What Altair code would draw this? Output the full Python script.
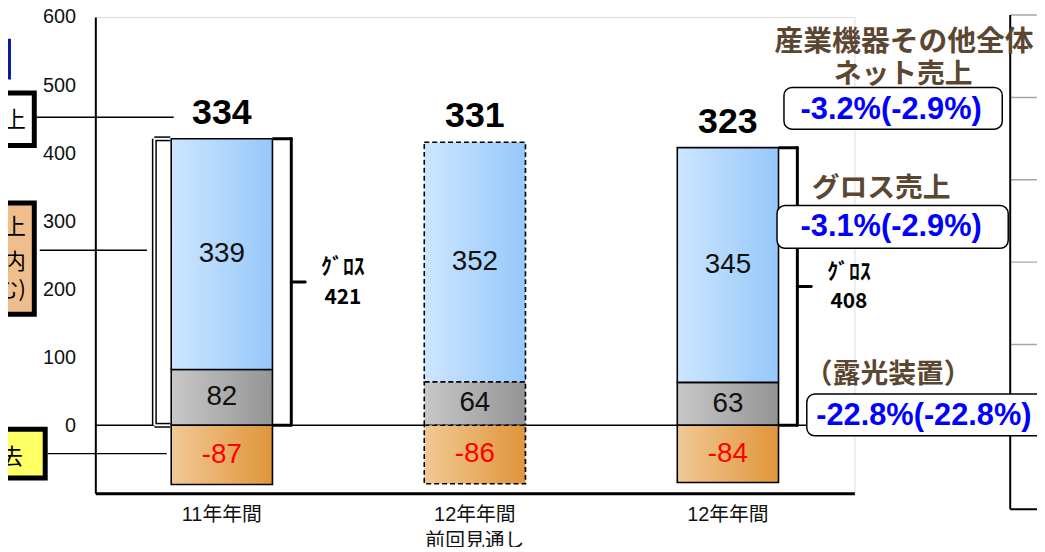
import altair as alt
import pandas as pd

# ---------------- data ----------------
categories = ["11年年間", "12年年間 前回見通し", "12年年間"]
external_sales = [339, 352, 345]      # blue segment
intra_sales = [82, 64, 63]            # gray segment
eliminations = [-87, -86, -84]        # orange segment
net_sales = [334, 331, 323]
gross_sales = [421, 416, 408]
is_forecast = [False, True, False]
show_gross = [True, False, True]

y_ticks = [0, 100, 200, 300, 400, 500, 600]

rows = []
for i, c in enumerate(categories):
    g = intra_sales[i]
    rows.append(dict(cat=c, seg="intra", y0=0, y1=g, val=g, fc=is_forecast[i]))
    rows.append(dict(cat=c, seg="ext", y0=g, y1=g + external_sales[i], val=external_sales[i], fc=is_forecast[i]))
    rows.append(dict(cat=c, seg="elim", y0=eliminations[i], y1=0, val=eliminations[i], fc=is_forecast[i]))
df = pd.DataFrame(rows)
df["mid"] = (df["y0"] + df["y1"]) / 2
df["lbl"] = df["val"].astype(str)

tot = pd.DataFrame(dict(cat=categories, net=net_sales, gross=gross_sales,
                        fc=is_forecast, show=show_gross))
tot["half"] = tot["gross"] / 2
tot["base"] = 0

LAT = "'Liberation Sans', Arial, 'Noto Sans CJK JP', sans-serif"
CJK = "'Noto Sans CJK JP', sans-serif"
BROWN = "#5b4731"

x_enc = alt.X(
    "cat:N", sort=categories,
    scale=alt.Scale(domain=categories, paddingInner=0.6, paddingOuter=0.3),
    axis=alt.Axis(title=None, labelAngle=0, labelExpr="split(datum.label, ' ')",
                  labelFontSize=20, labelFont=LAT, labelColor="#111", labelPadding=11,
                  labelLineHeight=27, ticks=False, domainColor="black", domainWidth=3,
                  grid=False),
)


def ye(field):
    return alt.Y(
        field, type="quantitative",
        scale=alt.Scale(domain=[-100, 600], nice=False, zero=False),
        axis=alt.Axis(title=None, values=y_ticks, labelFontSize=20, labelFont=LAT,
                      labelColor="#111", labelPadding=20, ticks=False,
                      domainColor="black", domainWidth=2, gridColor="#a6a6a6",
                      gridWidth=1.5),
    )


def grad(c0, c1):
    return alt.Gradient(gradient="linear", x1=0, x2=1, y1=0, y2=0,
                        stops=[alt.GradientStop(color=c0, offset=0),
                               alt.GradientStop(color=c1, offset=1)])


seg_colors = {"ext": ("#cde6ff", "#96c8fa"),
              "intra": ("#c8c8c8", "#949494"),
              "elim": ("#f1c995", "#e0953a")}

layers = []
one = pd.DataFrame({"a": [0]})
dec = alt.Chart(one)

# right-hand partial panel (cropped neighbour chart)
for yy in [-2, 81, 164, 247, 330, 413]:
    layers.append(dec.mark_rule(color="#a6a6a6", strokeWidth=1.5).encode(
        x=alt.value(922), x2=alt.value(960), y=alt.value(yy)))
layers.append(dec.mark_rule(color="black", strokeWidth=2).encode(
    x=alt.value(922), x2=alt.value(960), y=alt.value(496)))
layers.append(dec.mark_rule(color="black", strokeWidth=2).encode(
    x=alt.value(922), y=alt.value(-2), y2=alt.value(496)))

# zero line
layers.append(dec.mark_rule(color="black", strokeWidth=1.5).encode(
    x=alt.value(0), x2=alt.value(765),
    y=alt.datum(0, type="quantitative", scale=alt.Scale(domain=[-100, 600], nice=False, zero=False))))

# bars
for s in ["intra", "ext", "elim"]:
    c0, c1 = seg_colors[s]
    layers.append(
        alt.Chart(df).transform_filter(f"datum.seg == '{s}'")
        .mark_bar(color=grad(c0, c1), stroke="black", strokeWidth=1.6)
        .encode(x=x_enc, y=ye("y0"), y2="y1:Q",
                strokeDash=alt.condition("datum.fc", alt.value([5, 3]), alt.value([1, 0])))
    )

# segment labels
layers.append(
    alt.Chart(df).mark_text(fontSize=28, font=LAT, baseline="middle")
    .encode(x=x_enc, y=ye("mid"), text="lbl:N",
            color=alt.condition("datum.seg == 'elim'", alt.value("#ff0000"), alt.value("#111111")))
)

# net totals above bars
layers.append(
    alt.Chart(tot).mark_text(fontSize=36, fontWeight="bold", font=LAT, baseline="middle", dy=-26, color="black")
    .encode(x=x_enc, y=ye("gross"), text="net:Q")
)

# right curly brackets + gross labels
br = alt.Chart(tot).transform_filter("datum.show")
bw = 3
layers.append(br.mark_rule(xOffset=70, strokeWidth=bw, color="black", strokeCap="round")
              .encode(x=x_enc, y=ye("base"), y2="gross:Q"))
layers.append(br.mark_rule(xOffset=52, x2Offset=70, strokeWidth=bw, color="black", strokeCap="round")
              .encode(x=x_enc, x2="cat:N", y=ye("gross")))
layers.append(br.mark_rule(xOffset=52, x2Offset=70, strokeWidth=bw, color="black", strokeCap="round")
              .encode(x=x_enc, x2="cat:N", y=ye("base")))
layers.append(br.mark_rule(xOffset=70, x2Offset=84, strokeWidth=bw, color="black", strokeCap="round")
              .encode(x=x_enc, x2="cat:N", y=ye("half")))
layers.append(br.mark_text(dx=122, dy=-15, fontSize=22, fontWeight="bold", font=CJK, color="black")
              .encode(x=x_enc, y=ye("half"), text=alt.value("ｸﾞﾛｽ")))
layers.append(br.mark_text(dx=122, dy=16, fontSize=21, fontWeight="bold", font=CJK, color="black")
              .encode(x=x_enc, y=ye("half"), text="gross:Q"))

# left open double-line bracket (first bar)
lb = alt.Chart(tot).transform_filter(alt.datum.cat == categories[0])
for w, col in [(5, "black"), (2, "white")]:
    layers.append(lb.mark_rule(xOffset=-68, strokeWidth=w, color=col)
                  .encode(x=x_enc, y=ye("base"), y2="gross:Q"))
    layers.append(lb.mark_rule(xOffset=-68, x2Offset=-52, strokeWidth=w, color=col)
                  .encode(x=x_enc, x2="cat:N", y=ye("gross")))
    layers.append(lb.mark_rule(xOffset=-68, x2Offset=-52, strokeWidth=w, color=col)
                  .encode(x=x_enc, x2="cat:N", y=ye("base")))

# left cropped callouts
layers.append(dec.mark_rect(color="#0a1aa0").encode(
    x=alt.value(-110), x2=alt.value(-85), y=alt.value(22), y2=alt.value(63)))
layers.append(dec.mark_rule(color="black", strokeWidth=1.5).encode(
    x=alt.value(-59), x2=alt.value(79), y=alt.value(101)))
layers.append(dec.mark_rect(fill="white", stroke="black", strokeWidth=5).encode(
    x=alt.value(-120), x2=alt.value(-61.5), y=alt.value(76.5), y2=alt.value(129.5)))
layers.append(dec.mark_text(align="right", baseline="middle", fontSize=22, font=CJK, color="black").encode(
    x=alt.value(-70), y=alt.value(104), text=alt.value("ネット売上")))

layers.append(dec.mark_rule(color="black", strokeWidth=1.5).encode(
    x=alt.value(-56), x2=alt.value(52), y=alt.value(235)))
layers.append(dec.mark_rect(fill="#efbe8c", stroke="black", strokeWidth=5).encode(
    x=alt.value(-120), x2=alt.value(-61.5), y=alt.value(187.5), y2=alt.value(299.5)))
for txt, yy in [("グロス売上", 212), ("(ｸﾞﾙｰﾌﾟ内", 247), ("取引含む)", 275)]:
    layers.append(dec.mark_text(align="right", baseline="middle", fontSize=22, font=CJK, color="black").encode(
        x=alt.value(-70), y=alt.value(yy), text=alt.value(txt)))

layers.append(dec.mark_rule(color="black", strokeWidth=1.5).encode(
    x=alt.value(-48), x2=alt.value(72), y=alt.value(440)))
layers.append(dec.mark_rect(fill="#ffff66", stroke="black", strokeWidth=5).encode(
    x=alt.value(-120), x2=alt.value(-50.5), y=alt.value(415.5), y2=alt.value(464.5)))
layers.append(dec.mark_text(align="right", baseline="middle", fontSize=22, font=CJK, color="black").encode(
    x=alt.value(-73), y=alt.value(443), text=alt.value("セグメント間消去")))

# right annotations
for txt, xx, yy, fs in [("産業機器その他全体", 815, 25, 29), ("ネット売上", 814, 58, 28),
                        ("グロス売上", 792, 173, 28), ("（露光装置）", 799, 361, 28)]:
    layers.append(dec.mark_text(align="center", baseline="middle", fontSize=fs, fontWeight="bold",
                                font=CJK, color=BROWN).encode(
        x=alt.value(xx), y=alt.value(yy), text=alt.value(txt)))

for (x0, x1, y0, y1), txt, cx, cy in [((694, 914, 71, 113), "-3.2%(-2.9%)", 802, 94),
                                      ((687, 920, 190, 233), "-3.1%(-2.9%)", 802, 212),
                                      ((717, 975, 380, 422), "-22.8%(-22.8%)", 835, 402)]:
    layers.append(dec.mark_rect(fill="white", stroke="black", strokeWidth=1.5, cornerRadius=8).encode(
        x=alt.value(x0), x2=alt.value(x1), y=alt.value(y0), y2=alt.value(y1)))
    layers.append(dec.mark_text(align="center", baseline="middle", fontSize=31, fontWeight="bold",
                                font=LAT, color="#0000ff").encode(
        x=alt.value(cx), y=alt.value(cy), text=alt.value(txt)))

chart = alt.layer(*layers).properties(
    width=765, height=480,
    padding={"left": 88, "top": 7, "right": 184, "bottom": 52},
    autosize=alt.AutoSizeParams(type="none"),
).configure_view(stroke=None).configure(background="white")

chart.save("out.html", embed_options={"renderer": "svg", "actions": False})
